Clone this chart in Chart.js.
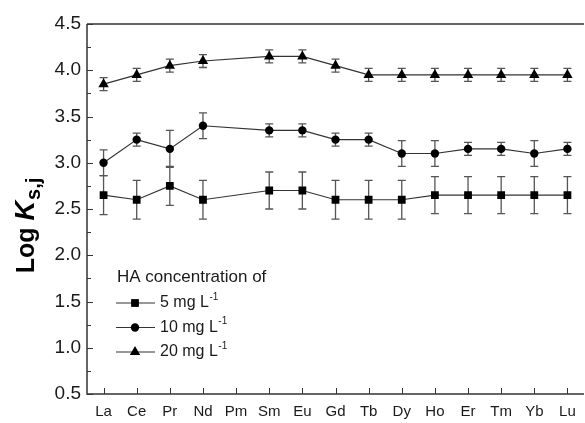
<!DOCTYPE html>
<html>
<head>
<meta charset="utf-8">
<script src="https://cdn.jsdelivr.net/npm/chart.js@4/dist/chart.umd.min.js"></script>
<style>
    html, body { margin: 0; padding: 0; background: #fff; overflow: hidden; }
    #wrap { width: 585px; height: 423px; overflow: hidden; }
    #box { width: 590px; height: 423px; }
</style>
</head>
<body>
<div id="wrap"><div id="box"><canvas id="ksChart"></canvas></div></div>
<script>
const elements = ["La", "Ce", "Pr", "Nd", "Pm", "Sm", "Eu", "Gd", "Tb", "Dy", "Ho", "Er", "Tm", "Yb", "Lu"];

const ha5 = [2.65, 2.60, 2.75, 2.60, null, 2.70, 2.70, 2.60, 2.60, 2.60, 2.65, 2.65, 2.65, 2.65, 2.65];
const ha5Err = [0.21, 0.21, 0.21, 0.21, null, 0.20, 0.20, 0.21, 0.21, 0.21, 0.20, 0.20, 0.20, 0.20, 0.20];

const ha10 = [3.00, 3.25, 3.15, 3.40, null, 3.35, 3.35, 3.25, 3.25, 3.10, 3.10, 3.15, 3.15, 3.10, 3.15];
const ha10Err = [0.14, 0.07, 0.20, 0.14, null, 0.07, 0.07, 0.07, 0.07, 0.14, 0.14, 0.07, 0.07, 0.14, 0.07];

const ha20 = [3.85, 3.95, 4.05, 4.10, null, 4.15, 4.15, 4.05, 3.95, 3.95, 3.95, 3.95, 3.95, 3.95, 3.95];
const ha20Err = [0.07, 0.07, 0.07, 0.07, null, 0.07, 0.07, 0.07, 0.07, 0.07, 0.07, 0.07, 0.07, 0.07, 0.07];

const legendTitle = "HA concentration of";
const legendNames = ["5 mg L", "10 mg L", "20 mg L"];
const yTicks = [0.5, 1.0, 1.5, 2.0, 2.5, 3.0, 3.5, 4.0, 4.5];

const FONT = "'Liberation Sans', Arial, sans-serif";
const INK = "#1a1a1a";

function makeSet(label, data, err, style, radius) {
    return {
        label: label,
        data: data,
        errors: err,
        pointStyle: style,
        pointRadius: radius,
        pointHoverRadius: radius,
        pointBackgroundColor: "#000",
        pointBorderColor: "#000",
        pointBorderWidth: 0,
        borderColor: "#333",
        borderWidth: 1.2,
        spanGaps: true,
        tension: 0
    };
}

// error bars under the markers
const errorBars = {
    id: "errorBars",
    beforeDatasetsDraw(c) {
        const ctx = c.ctx;
        const y = c.scales.y;
        ctx.save();
        ctx.strokeStyle = "#555";
        ctx.lineWidth = 1.3;
        c.data.datasets.forEach((ds, i) => {
            const meta = c.getDatasetMeta(i);
            meta.data.forEach((pt, j) => {
                const v = ds.data[j];
                const e = ds.errors[j];
                if (v == null || e == null) return;
                const top = y.getPixelForValue(v + e);
                const bot = y.getPixelForValue(v - e);
                ctx.beginPath();
                ctx.moveTo(pt.x, top); ctx.lineTo(pt.x, bot);
                ctx.moveTo(pt.x - 4, top); ctx.lineTo(pt.x + 4, top);
                ctx.moveTo(pt.x - 4, bot); ctx.lineTo(pt.x + 4, bot);
                ctx.stroke();
            });
        });
        ctx.restore();
    }
};

// frame, inside ticks, axis title, legend
const decorations = {
    id: "decorations",
    afterDraw(c) {
        const ctx = c.ctx;
        const a = c.chartArea;
        const x = c.scales.x;
        const y = c.scales.y;
        ctx.save();
        ctx.strokeStyle = "#333";
        ctx.lineWidth = 1.5;
        ctx.beginPath();
        ctx.moveTo(a.left, a.top); ctx.lineTo(a.right, a.top);
        ctx.moveTo(a.left, a.top); ctx.lineTo(a.left, a.bottom);
        ctx.lineTo(a.right, a.bottom);
        ctx.stroke();

        ctx.lineWidth = 1;
        ctx.beginPath();
        for (let v = 0.5; v <= 4.5001; v += 0.25) {
            const py = Math.round(y.getPixelForValue(v)) + 0.5;
            const major = Math.abs(v * 2 - Math.round(v * 2)) < 1e-6;
            ctx.moveTo(a.left, py); ctx.lineTo(a.left + (major ? 6 : 4), py);
        }
        elements.forEach((el, i) => {
            const px = Math.round(x.getPixelForValue(i)) + 0.5;
            ctx.moveTo(px, a.bottom); ctx.lineTo(px, a.bottom - 6);
        });
        ctx.stroke();

        // y title: Log K s,j
        ctx.translate(34, 226);
        ctx.rotate(-Math.PI / 2);
        ctx.fillStyle = "#000";
        ctx.textBaseline = "alphabetic";
        const f1 = "bold 25px " + FONT;
        const f2 = "italic bold 27px " + FONT;
        const f3 = "bold 20px " + FONT;
        ctx.font = f1; const w1 = ctx.measureText("Log ").width;
        ctx.font = f2; const w2 = ctx.measureText("K").width;
        ctx.font = f3; const w3 = ctx.measureText("s,j").width;
        let tx = -(w1 + w2 + w3) / 2;
        ctx.font = f1; ctx.fillText("Log ", tx, 0); tx += w1;
        ctx.font = f2; ctx.fillText("K", tx, 0); tx += w2 + 1;
        ctx.font = f3; ctx.fillText("s,j", tx, 6);
        ctx.setTransform(c.currentDevicePixelRatio, 0, 0, c.currentDevicePixelRatio, 0, 0);

        // legend
        ctx.fillStyle = INK;
        ctx.textBaseline = "middle";
        ctx.font = "17px " + FONT;
        ctx.fillText(legendTitle, 117, 277);
        legendNames.forEach((name, i) => {
            const ly = 303 + i * 24.5;
            const ds = c.data.datasets[i];
            ctx.strokeStyle = "#333";
            ctx.lineWidth = 1.2;
            ctx.beginPath();
            ctx.moveTo(116, ly); ctx.lineTo(155, ly);
            ctx.stroke();
            ctx.fillStyle = "#000";
            Chart.helpers.drawPoint(ctx, { pointStyle: ds.pointStyle, radius: ds.pointRadius, borderWidth: 0 }, 135, ly);
            ctx.fillStyle = INK;
            ctx.font = "16px " + FONT;
            ctx.fillText(name, 160, ly);
            const w = ctx.measureText(name).width;
            ctx.font = "10px " + FONT;
            ctx.fillText("-1", w + 160.5, ly - 6);
        });
        ctx.restore();
    }
};

new Chart(document.getElementById("ksChart"), {
    type: "line",
    data: {
        labels: elements,
        datasets: [
            makeSet("5 mg L-1", ha5, ha5Err, "rect", 5.5),
            makeSet("10 mg L-1", ha10, ha10Err, "circle", 4.2),
            makeSet("20 mg L-1", ha20, ha20Err, "triangle", 6)
        ]
    },
    options: {
        responsive: true,
        maintainAspectRatio: false,
        animation: false,
        layout: { padding: { left: 0, right: 3, top: 24, bottom: 0 } },
        plugins: {
            legend: { display: false },
            tooltip: { enabled: false }
        },
        scales: {
            x: {
                offset: true,
                grid: { display: false, drawTicks: false },
                border: { display: false },
                ticks: {
                    color: INK,
                    padding: 9,
                    maxRotation: 0,
                    autoSkip: false,
                    font: { family: FONT, size: 15 }
                },
                afterFit(s) { s.height = 29; }
            },
            y: {
                min: 0.5,
                max: 4.5,
                afterBuildTicks(s) { s.ticks = yTicks.map(v => ({ value: v })); },
                grid: { display: false, drawTicks: false },
                border: { display: false },
                ticks: {
                    color: INK,
                    padding: 6,
                    font: { family: FONT, size: 19 },
                    callback: v => v.toFixed(1)
                },
                afterFit(s) { s.width = 87; }
            }
        }
    },
    plugins: [errorBars, decorations]
});
</script>
</body>
</html>
